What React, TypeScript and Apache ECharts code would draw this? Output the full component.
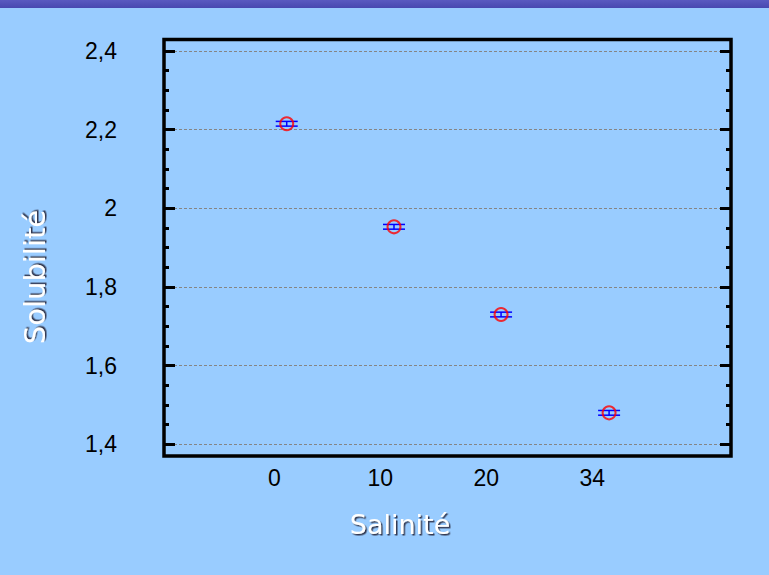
import React, { useEffect, useRef } from "react";
import * as echarts from "echarts";

const categories = ["0", "10", "20", "34"];
const categoryPositions = [0, 1, 2, 3];
const pointX = [0.117, 1.129, 2.139, 3.158];
const solubility = [2.215, 1.953, 1.73, 1.48];
const errorHalf = [0.006, 0.006, 0.006, 0.006];
const yTicks = [1.4, 1.6, 1.8, 2.0, 2.2, 2.4];

const fmtY = (v: number) => {
  const s = String(Number(v.toFixed(1)));
  return s.replace(".", ",");
};

export default function App() {
  const ref = useRef<HTMLDivElement>(null);
  useEffect(() => {
    if (!ref.current) return;
    const chart = echarts.init(ref.current, null, { renderer: "svg" });
    const points = pointX.map((x, i) => [x, solubility[i]]);
    const errs = pointX.map((x, i) => [x, solubility[i] - errorHalf[i], solubility[i] + errorHalf[i]]);
    const tickStyle = { color: "#000", width: 3 };
    chart.setOption({
      animation: false,
      backgroundColor: "#99CCFF",
      grid: { left: 164, right: 38, top: 51, bottom: 130.7 },
      xAxis: {
        type: "value",
        min: -1.0406,
        max: 4.308,
        axisLine: { show: false, onZero: false },
        axisTick: { show: false },
        splitLine: { show: false },
        axisLabel: {
          customValues: categoryPositions,
          formatter: (v: number) => categories[Math.round(v)] ?? "",
          color: "#000",
          fontFamily: "Liberation Sans, Arial, sans-serif",
          fontSize: 23,
          margin: 22,
        },
      },
      yAxis: [
        {
          type: "value",
          min: yTicks[0],
          max: yTicks[yTicks.length - 1],
          interval: 0.2,
          axisLine: { show: false, onZero: false },
          axisTick: { show: true, inside: true, length: 11, lineStyle: tickStyle },
          minorTick: { show: true, splitNumber: 4, length: 5, lineStyle: tickStyle },
          splitLine: { show: true, lineStyle: { color: "#858585", width: 1, type: [3, 2] } },
          axisLabel: {
            formatter: fmtY,
            color: "#000",
            fontFamily: "Liberation Sans, Arial, sans-serif",
            fontSize: 23,
            margin: 47,
            padding: [0, 0, 5, 0],
          },
        },
        {
          type: "value",
          position: "right",
          min: yTicks[0],
          max: yTicks[yTicks.length - 1],
          interval: 0.2,
          axisLine: { show: false, onZero: false },
          axisTick: { show: true, inside: true, length: 11, lineStyle: tickStyle },
          minorTick: { show: true, splitNumber: 4, length: 5, lineStyle: tickStyle },
          splitLine: { show: false },
          axisLabel: { show: false },
        },
      ],
      series: [
        {
          type: "custom",
          data: errs,
          z: 2,
          renderItem: (params: any, api: any) => {
            const x = api.value(0);
            const lo = api.coord([x, api.value(1)]);
            const hi = api.coord([x, api.value(2)]);
            const hw = 11;
            const st = { stroke: "#0000FF", lineWidth: 1.5 };
            return {
              type: "group",
              children: [
                { type: "line", shape: { x1: lo[0] - hw, y1: lo[1], x2: lo[0] + hw, y2: lo[1] }, style: st },
                { type: "line", shape: { x1: hi[0] - hw, y1: hi[1], x2: hi[0] + hw, y2: hi[1] }, style: st },
                { type: "line", shape: { x1: lo[0], y1: lo[1], x2: hi[0], y2: hi[1] }, style: st },
              ],
            };
          },
        },
        {
          type: "scatter",
          data: points,
          z: 3,
          symbol: "circle",
          symbolSize: 13,
          itemStyle: { color: "transparent", borderColor: "#FF0000", borderWidth: 2 },
        },
      ],
      graphic: [
        {
          type: "rect",
          left: 0,
          top: 0,
          shape: { x: 0, y: 0, width: 769, height: 8 },
          style: {
            fill: new echarts.graphic.LinearGradient(0, 0, 0, 1, [
              { offset: 0, color: "#5A5AC0" },
              { offset: 1, color: "#4848B0" },
            ]),
          },
        },
        {
          type: "rect",
          shape: { x: 164, y: 39.5, width: 567, height: 416.5 },
          style: { fill: "none", stroke: "#000", lineWidth: 3.5 },
          z: 100,
        },
        {
          type: "text",
          x: 400,
          y: 524,
          style: {
            text: "Salinité",
            fill: "#FFFFFF",
            font: "27px 'DejaVu Sans', Verdana, sans-serif",
            align: "center",
            verticalAlign: "middle",
            textShadowColor: "rgba(40,40,60,0.9)",
            textShadowBlur: 1,
            textShadowOffsetX: 1.5,
            textShadowOffsetY: 1.5,
          },
        },
        {
          type: "text",
          x: 35,
          y: 277,
          rotation: Math.PI / 2,
          style: {
            text: "Solubilité",
            fill: "#FFFFFF",
            font: "29px 'DejaVu Sans', Verdana, sans-serif",
            align: "center",
            verticalAlign: "middle",
            textShadowColor: "rgba(40,40,60,0.9)",
            textShadowBlur: 1,
            textShadowOffsetX: 1.5,
            textShadowOffsetY: 1.5,
          },
        },
      ],
    });
    return () => chart.dispose();
  }, []);
  return (
    <div
      ref={ref}
      style={{ position: "fixed", left: 0, top: 0, width: 769, height: 575 }}
    />
  );
}
